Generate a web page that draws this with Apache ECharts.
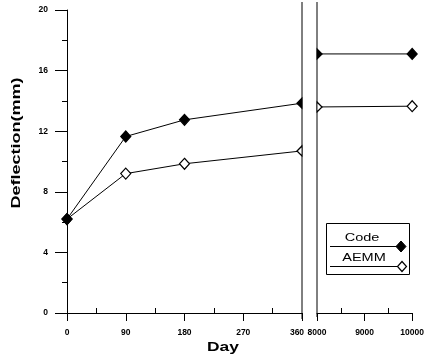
<!DOCTYPE html>
<html>
<head>
<meta charset="utf-8">
<script src="https://cdn.jsdelivr.net/npm/echarts@6/dist/echarts.min.js"></script>
<style>
  html, body { margin: 0; padding: 0; background: #fff; }
  #chart { width: 427px; height: 357px; }
</style>
</head>
<body>
<div id="chart"></div>
<script>
// days on each side of the axis break
const leftDays = [0, 90, 180, 360];
const rightDays = [8000, 10000];
// deflection (mm)
const codeLeft = [6.2, 11.65, 12.75, 13.85];
const codeRight = [17.1, 17.1];
const aemmLeft = [6.2, 9.2, 9.85, 10.7];
const aemmRight = [13.6, 13.65];

const FONT = 'Liberation Sans, Arial, sans-serif';
const halfLeft = 'path://M0,5L5,0L5,10Z';
const halfRight = 'path://M0,0L5,5L0,10Z';

// build points, last point of left panel / first of right panel are cut by the break
function pts(xs, ys, side) {
  return xs.map(function (x, i) {
    let p = { value: [x, ys[i]] };
    if (side == 'left' && i == xs.length - 1) {
      p.symbol = halfLeft; p.symbolSize = [5, 10]; p.symbolOffset = [-2.5, 0];
    }
    if (side == 'right' && i == 0) {
      p.symbol = halfRight; p.symbolSize = [5, 10]; p.symbolOffset = [2.5, 0];
    }
    return p;
  });
}

function lineSeries(name, xi, data, filled) {
  return {
    name: name,
    type: 'line',
    xAxisIndex: xi,
    yAxisIndex: xi,
    data: data,
    symbol: 'diamond',
    symbolSize: [10, 11],
    showAllSymbol: true,
    clip: false,
    lineStyle: { color: '#000', width: 1 },
    itemStyle: { color: filled ? '#000' : '#fff', borderColor: '#000', borderWidth: 1.2 },
    z: filled ? 3 : 2
  };
}

const labelStyle = { color: '#000', fontSize: 8.5, fontWeight: 'bold', fontFamily: FONT };
const blackLine = { color: '#000', width: 1 };

// main x axis (labels, outward major ticks)
function xMain(grid, min, max, step, rich) {
  return {
    gridIndex: grid, type: 'value', position: 'bottom', min: min, max: max, interval: step,
    axisLine: { show: true, onZero: false, lineStyle: blackLine },
    axisTick: { show: true, length: 8, lineStyle: blackLine },
    splitLine: { show: false },
    axisLabel: Object.assign({}, labelStyle, {
      margin: 15,
      formatter: function (v) { return rich && v == max ? '{m|' + v + '}' : String(v); },
      rich: { m: Object.assign({}, labelStyle, { padding: [0, 10, 0, 0] }) }
    })
  };
}
// overlay x axis for the small inside minor ticks
function xMinor(grid, min, max, step) {
  return {
    gridIndex: grid, type: 'value', position: 'bottom', min: min, max: max, interval: step,
    axisLine: { show: false, onZero: false },
    axisTick: { show: false, inside: true },
    minorTick: { show: true, splitNumber: 2, length: 5, lineStyle: blackLine },
    axisLabel: { show: false },
    splitLine: { show: false }
  };
}

const myChart = echarts.init(document.getElementById('chart'));
myChart.setOption({
  animation: false,
  backgroundColor: '#fff',
  grid: [
    { left: 67, top: 10, width: 235, height: 303 },
    { left: 317, top: 10, width: 97, height: 303 }
  ],
  xAxis: [
    xMain(0, 0, 360, 90, true),
    xMain(1, 8000, 10000, 1000, false),
    xMinor(0, 0, 360, 90),
    xMinor(1, 8000, 10000, 1000)
  ],
  yAxis: [
    {
      gridIndex: 0, type: 'value', min: 0, max: 20, interval: 4,
      axisLine: { show: true, onZero: false, lineStyle: blackLine },
      axisTick: { show: true, length: 12, lineStyle: blackLine },
      minorTick: { show: true, splitNumber: 2, length: 5, lineStyle: blackLine },
      splitLine: { show: false },
      axisLabel: Object.assign({}, labelStyle, { margin: 19 })
    },
    {
      gridIndex: 1, type: 'value', min: 0, max: 20, show: false
    }
  ],
  series: [
    lineSeries('AEMM', 0, pts(leftDays, aemmLeft, 'left'), false),
    lineSeries('Code', 0, pts(leftDays, codeLeft, 'left'), true),
    lineSeries('AEMM', 1, pts(rightDays, aemmRight, 'right'), false),
    lineSeries('Code', 1, pts(rightDays, codeRight, 'right'), true)
  ],
  graphic: [
    // axis break lines
    { type: 'line', shape: { x1: 302, y1: 2, x2: 302, y2: 319 }, style: { stroke: '#000', lineWidth: 1 } },
    { type: 'line', shape: { x1: 317, y1: 2, x2: 317, y2: 317 }, style: { stroke: '#000', lineWidth: 1 } },
    // axis titles
    {
      type: 'text', x: 223, y: 348, scaleX: 1.45,
      style: { text: 'Day', font: 'bold 12px ' + FONT, fill: '#000', align: 'center', verticalAlign: 'middle' }
    },
    {
      type: 'text', x: 17, y: 143, rotation: Math.PI / 2, scaleX: 1.5,
      style: { text: 'Deflection(mm)', font: 'bold 12px ' + FONT, fill: '#000', align: 'center', verticalAlign: 'middle' }
    },
    // legend box
    { type: 'rect', shape: { x: 326.5, y: 223.5, width: 83, height: 51 }, style: { fill: '#fff', stroke: '#000', lineWidth: 1 }, z: 10 },
    {
      type: 'text', x: 362, y: 238, scaleX: 1.45, z: 11,
      style: { text: 'Code', font: '10px ' + FONT, fill: '#000', align: 'center', verticalAlign: 'middle' }
    },
    { type: 'line', shape: { x1: 330, y1: 246.5, x2: 400, y2: 246.5 }, style: { stroke: '#000', lineWidth: 1 }, z: 11 },
    { type: 'polygon', shape: { points: [[401, 241], [406, 246.5], [401, 252], [396, 246.5]] }, style: { fill: '#000', stroke: '#000' }, z: 12 },
    {
      type: 'text', x: 364, y: 258, scaleX: 1.45, z: 11,
      style: { text: 'AEMM', font: '10px ' + FONT, fill: '#000', align: 'center', verticalAlign: 'middle' }
    },
    { type: 'line', shape: { x1: 330, y1: 266.5, x2: 400, y2: 266.5 }, style: { stroke: '#000', lineWidth: 1 }, z: 11 },
    { type: 'polygon', shape: { points: [[402, 261.5], [406.5, 266.5], [402, 271.5], [397.5, 266.5]] }, style: { fill: '#fff', stroke: '#000', lineWidth: 1.2 }, z: 12 }
  ]
});

window.addEventListener('resize', function () {
  myChart.resize();
});
</script>
</body>
</html>
